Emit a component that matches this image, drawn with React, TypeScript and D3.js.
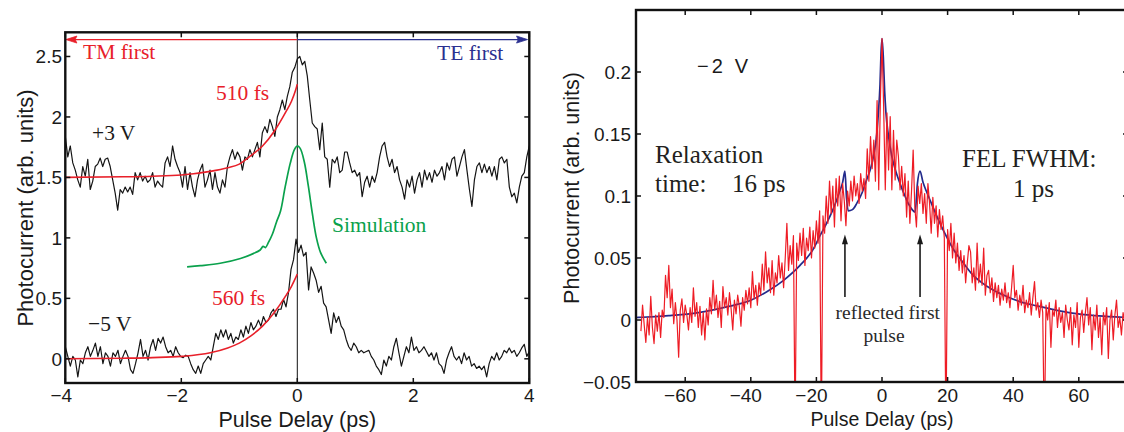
import React from 'react';
import * as d3 from 'd3';

// ---------- tick values ----------
const leftXTicks = [-4, -2, 0, 2, 4];
const leftYTicks = [0, 0.5, 1, 1.5, 2, 2.5];
const rightXTicks = [-60, -40, -20, 0, 20, 40, 60];
const rightYTicks = [-0.05, 0, 0.05, 0.1, 0.15, 0.2];

// ---------- left panel: measured traces, sampled uniformly from -4 ps to 4 ps ----------
const leftTraceStart = -4;
const leftTraceEnd = 4;
const plus3V = [
  1.84, 1.67, 1.76, 1.62, 1.56, 1.48, 1.42, 1.59, 1.51, 1.65,
  1.40, 1.47, 1.59, 1.61, 1.66, 1.59, 1.65, 1.66, 1.59, 1.48,
  1.37, 1.23, 1.40, 1.37, 1.42, 1.38, 1.42, 1.36, 1.54, 1.48,
  1.54, 1.47, 1.51, 1.46, 1.48, 1.54, 1.42, 1.47, 1.44, 1.42,
  1.62, 1.67, 1.59, 1.76, 1.65, 1.59, 1.54, 1.42, 1.59, 1.40,
  1.54, 1.42, 1.34, 1.48, 1.56, 1.61, 1.42, 1.48, 1.56, 1.40,
  1.54, 1.42, 1.37, 1.48, 1.42, 1.59, 1.67, 1.73, 1.65, 1.71,
  1.67, 1.56, 1.67, 1.65, 1.73, 1.67, 1.73, 1.79, 1.67, 1.87,
  1.92, 1.87, 1.98, 1.92, 1.84, 2.00, 2.06,
  2.14, 2.06, 2.17, 2.25, 2.37, 2.41, 2.48, 2.50, 2.43, 2.46,
  2.34, 2.14, 1.95, 1.92, 1.90, 1.73, 1.95, 1.67, 1.65, 1.42,
  1.65, 1.62, 1.67, 1.54, 1.56, 1.71, 1.71, 1.62, 1.54, 1.56,
  1.51, 1.54, 1.34, 1.46, 1.51, 1.42, 1.51, 1.46, 1.54,
  1.67, 1.76, 1.79, 1.67, 1.59, 1.65, 1.54, 1.59, 1.48, 1.42,
  1.32, 1.48, 1.42, 1.51, 1.37, 1.48, 1.54, 1.42, 1.56, 1.48,
  1.54, 1.46, 1.56, 1.51, 1.54, 1.59, 1.48, 1.62, 1.56, 1.65,
  1.67, 1.51, 1.59, 1.67, 1.73, 1.56, 1.40, 1.26, 1.48, 1.59,
  1.62, 1.54, 1.61, 1.54, 1.59, 1.51, 1.59, 1.48, 1.65, 1.67,
  1.62, 1.65, 1.42, 1.34, 1.37, 1.29, 1.42, 1.51, 1.54, 1.67,
  1.76,
];
const minus5V = [
  0.10, 0.02, -0.06, 0.02, -0.01, -0.15, -0.01, -0.04, 0.05, 0.10,
  0.02, 0.07, 0.13, 0.02, 0.10, -0.04, 0.05, 0.02, -0.06, 0.05,
  0.02, 0.07, -0.04, 0.02, 0.07, 0.02, -0.09, -0.12, -0.04, 0.05,
  0.16, 0.02, 0.07, -0.01, 0.10, 0.16, 0.07, 0.17, 0.13, 0.18,
  0.10, 0.05, 0.07, 0.02, 0.10, 0.05, 0.02, 0.01, 0.03, 0.02,
  -0.04, -0.09, -0.12, -0.06, -0.12, -0.04, -0.01, 0.02, -0.01, 0.10,
  0.21, 0.16, 0.24, 0.18, 0.24, 0.16, 0.21, 0.13, 0.18, 0.16,
  0.24, 0.18, 0.27, 0.21, 0.30, 0.24, 0.27, 0.32, 0.27, 0.35,
  0.30, 0.32, 0.38, 0.41, 0.35, 0.41,
  0.41, 0.49, 0.43, 0.55, 0.74, 0.82, 0.99, 0.88, 0.94, 0.85,
  0.88, 0.57, 0.76, 0.71, 0.65, 0.55, 0.60, 0.46, 0.43, 0.32,
  0.21, 0.38, 0.30, 0.35, 0.27, 0.24, 0.16, 0.10, 0.07, 0.13,
  0.10, 0.05, 0.07, 0.05, 0.06, 0.07, 0.02, -0.01, -0.06, -0.09,
  -0.13, -0.01, -0.06, 0.02, -0.01, 0.10, 0.17, 0.05, -0.06, 0.02,
  0.10, 0.05, 0.18, 0.07, 0.10, 0.05, 0.07, 0.10, 0.06, 0.02,
  0.05, -0.01, 0.05, -0.04, -0.06, -0.12, -0.01, 0.05, 0.10, 0.02,
  -0.01, 0.02, -0.04, 0.05, -0.01, 0.02, -0.06, -0.04, -0.08, -0.06,
  -0.09, -0.06, -0.15, -0.04, 0.02, -0.01, 0.05, -0.01, 0.02, 0.07,
  0.05, 0.09, 0.05, 0.07, 0.02, 0.05, 0.09, 0.12, 0.02, 0.06,
];

// ---------- left panel: fits and simulation [delay ps, value] ----------
const fit510: [number, number][] = [
  [-4, 1.5], [-3, 1.505], [-2.5, 1.51], [-2, 1.52], [-1.5, 1.55], [-1.2, 1.58],
  [-1.0, 1.61], [-0.8, 1.68], [-0.6, 1.76], [-0.4, 1.88], [-0.2, 2.04],
  [-0.1, 2.13], [-0.03, 2.22], [0, 2.27],
];
const fit560: [number, number][] = [
  [-4, 0.0], [-3, 0.005], [-2.5, 0.01], [-2, 0.02], [-1.5, 0.05], [-1.2, 0.09],
  [-1.0, 0.13], [-0.8, 0.19], [-0.6, 0.27], [-0.4, 0.38], [-0.2, 0.52],
  [-0.1, 0.6], [0, 0.7],
];
const simulation: [number, number][] = [
  [-1.9, 0.76], [-1.67, 0.77], [-1.33, 0.79], [-0.98, 0.83], [-0.76, 0.87],
  [-0.64, 0.9], [-0.59, 0.93], [-0.55, 0.92], [-0.5, 0.96], [-0.43, 1.03],
  [-0.36, 1.13], [-0.29, 1.22], [-0.21, 1.42], [-0.12, 1.62], [-0.05, 1.73],
  [0, 1.76], [0.05, 1.74], [0.12, 1.63], [0.19, 1.43], [0.26, 1.2],
  [0.33, 1.0], [0.4, 0.88], [0.5, 0.79],
];

// ---------- right panel ----------
const relaxFit: [number, number][] = [
  [-75, 0.002], [-73, 0.0022], [-65, 0.0035], [-57.5, 0.0054], [-50, 0.009],
  [-45, 0.012], [-40, 0.016], [-35, 0.023], [-30, 0.032], [-25, 0.044],
  [-21, 0.057], [-18.9, 0.068], [-16.9, 0.078], [-14.8, 0.09], [-13, 0.103],
  [-12, 0.111], [-11.3, 0.12], [-10.8, 0.098], [-10.3, 0.088], [-9, 0.089],
  [-7.7, 0.094], [-6, 0.103], [-4.7, 0.113], [-3.5, 0.122], [-2.6, 0.132],
  [-1.6, 0.15], [-1.1, 0.167], [-0.6, 0.19], [-0.3, 0.215], [0, 0.227],
  [0.4, 0.212], [0.8, 0.185], [1.2, 0.167], [2, 0.148], [3, 0.132],
  [4.2, 0.12], [5.5, 0.11], [7, 0.1], [8, 0.094], [9.2, 0.089], [10.1, 0.087],
  [10.8, 0.11], [11.6, 0.12], [12.5, 0.111], [13.5, 0.104], [14.6, 0.097],
  [17, 0.082], [19.7, 0.067], [22, 0.056], [24.8, 0.046], [27.8, 0.036],
  [30, 0.031], [34, 0.024], [38, 0.019], [43, 0.014], [48, 0.011], [53, 0.008],
  [58, 0.0055], [65, 0.0035], [73.6, 0.0022], [75, 0.002],
];
// measured photocurrent, in thousandths, sampled every 0.5 ps from -73.5 ps
const relaxStart = -73.5;
const relaxStep = 0.5;
const relaxMilli = [
  -9, 12, -4, -18, 2, -12, 19, -6, -19, 4, -9, 6, -14, 8, 2, 36, 18, 44, 10, 25, -3, 14, 0, -30, 8, 17, -2, 12,
  4, -8, 10, -2, 26, 3, 14, -6, 11, -12, 6, -16, 9, -4, 18, 5, 32, 8, 20, 2, 15, -6, 27, 10, 18, 4, 22, 9, -8, 16,
  5, 20, 11, -5, 18, 8, 24, 13, 26, 10, 39, 17, 28, 12, 30, 20, 45, 24, 55, 30, 42, 22, 48, 20, 38, 30, 52, 34, 46, 26,
  50, 78, 40, 60, 45, 68, -90, 62, 48, 70, 52, 74, 44, 66, 56, 75, 50, 72, 58, 80,
  62, 88, -95, 84, 70, 100, 78, 112, 86, 108, 75, 114, 92, 116, 80, 110, 96, 76,
  104, 92, 112, 96, 116, 100, 110, 94, 118, 104, 114, 98,
  138, 112, 148, 122, 145, 112, 177, 105, 177, 227,
  172, 105, 167, 121, 164, 105, 153, 113, 145, 132, 105,
  124, 100, 118, 83, 112, 78, 104, 137, 91, 75, 108, 94,
  110, 86, 102, 78, 110, 94, 70, 99, 78, 92, 67, 89, 73, 84, 66,
  -95, 73, 56, 78, 50, 70, 46, 62, 40, 56, 38, 52, 30, 46, 60, 55, 30, 42, 24, 62, 30, 45, 28, 58, 20, 36, 40, 22, 34, 15,
  30, 18, 28, 12, 25, 16, 30, 14, 22, 10, 26, 44, 18, 24, 8, 20, 12, 28, 6, 16, 10, 22, 4, 18, 31, 8, 14, 2, 16, 6, -95,
  12, 0, 14, -22, 8, 3, 16, -6, 10, -2, 6, -14, 12, 0, -8, 10, -20, 4, -6, 14, -22, 2, 8, -10, 6, 18, -4, 10, -24, 4,
  -8, 12, -14, 2, -28, 6, -4, 10, -31, 0, 8, -16, 4, 16, -6, 2, -12, 6, -2, 4, 0,
];
const reflectedPulses = [-11.3, 11.6];

const SANS = "'Liberation Sans', Arial, Helvetica, sans-serif";
const SERIF = "'Liberation Serif', 'Times New Roman', Times, serif";
const RED = '#e8202a';
const NAVY = '#2b3090';
const GREEN = '#0aa14c';
const FIT_BLUE = '#232b8c';

const fmt = (v: number) => (v < 0 ? '\u2212' + String(-v) : String(v));

export default function App() {
  const lx = d3.scaleLinear().domain([-4, 4]).range([65.3, 529.3]);
  const ly = d3.scaleLinear().domain([-0.2, 2.7]).range([383, 32.3]);
  const rx = d3.scaleLinear().domain([-75, 75]).range([636, 1128]);
  const ry = d3.scaleLinear().domain([-0.05, 0.25]).range([382, 10]);

  const uniformLine = (
    arr: number[],
    x0: number,
    step: number,
    sx: d3.ScaleLinear<number, number>,
    sy: d3.ScaleLinear<number, number>,
    k = 1
  ) =>
    d3
      .line<number>()
      .x((_, i) => sx(x0 + i * step))
      .y((d) => sy(d * k))(arr) as string;

  const pairLine = (
    arr: [number, number][],
    sx: d3.ScaleLinear<number, number>,
    sy: d3.ScaleLinear<number, number>,
    curve: d3.CurveFactory = d3.curveMonotoneX
  ) =>
    d3
      .line<[number, number]>()
      .x((d) => sx(d[0]))
      .y((d) => sy(d[1]))
      .curve(curve)(arr) as string;

  const lStep3 = (leftTraceEnd - leftTraceStart) / (plus3V.length - 1);
  const lStep5 = (leftTraceEnd - leftTraceStart) / (minus5V.length - 1);

  const L = { x0: lx(-4), x1: lx(4), y0: ly(2.7), y1: ly(-0.2) };
  const R = { x0: rx(-75), x1: rx(75), y0: ry(0.25), y1: ry(-0.05) };
  const TL = 5;

  const arrowY = ly(2.64);

  return (
    <svg
      width={1124}
      height={432}
      viewBox="0 0 1124 432"
      style={{ position: 'absolute', left: 0, top: 0, background: '#fff' }}
    >
      <defs>
        <clipPath id="clipL">
          <rect x={L.x0} y={L.y0} width={L.x1 - L.x0} height={L.y1 - L.y0} />
        </clipPath>
        <clipPath id="clipR">
          <rect x={R.x0} y={R.y0} width={R.x1 - R.x0} height={R.y1 - R.y0} />
        </clipPath>
      </defs>
      <rect x={0} y={0} width={1124} height={432} fill="#fff" />

      {/* ================= LEFT PANEL ================= */}
      <g clipPath="url(#clipL)">
        <line x1={lx(0)} x2={lx(0)} y1={L.y0} y2={L.y1} stroke="#111" strokeWidth={1} />
        <path d={uniformLine(plus3V, leftTraceStart, lStep3, lx, ly)} fill="none" stroke="#151515" strokeWidth={1.2} strokeLinejoin="round" />
        <path d={uniformLine(minus5V, leftTraceStart, lStep5, lx, ly)} fill="none" stroke="#151515" strokeWidth={1.2} strokeLinejoin="round" />
        <path d={pairLine(fit510, lx, ly)} fill="none" stroke={RED} strokeWidth={1.6} />
        <path d={pairLine(fit560, lx, ly)} fill="none" stroke={RED} strokeWidth={1.6} />
        <path d={pairLine(simulation, lx, ly, d3.curveCatmullRom)} fill="none" stroke={GREEN} strokeWidth={1.7} />
        {/* TM first / TE first arrows */}
        <line x1={lx(-3.9)} x2={lx(0)} y1={arrowY} y2={arrowY} stroke={RED} strokeWidth={1.3} />
        <path d={`M${lx(-3.99)},${arrowY} L${lx(-3.8)},${arrowY - 3.5} L${lx(-3.83)},${arrowY} L${lx(-3.8)},${arrowY + 3.5} Z`} fill={RED} stroke={RED} strokeWidth={0.8} />
        <line x1={lx(0)} x2={lx(3.9)} y1={arrowY} y2={arrowY} stroke={NAVY} strokeWidth={1.3} />
        <path d={`M${lx(3.97)},${arrowY} L${lx(3.78)},${arrowY - 3.5} L${lx(3.81)},${arrowY} L${lx(3.78)},${arrowY + 3.5} Z`} fill={NAVY} stroke={NAVY} strokeWidth={0.8} />
      </g>
      {/* frame + ticks */}
      <rect x={L.x0} y={L.y0} width={L.x1 - L.x0} height={L.y1 - L.y0} fill="none" stroke="#111" strokeWidth={2.4} />
      {leftXTicks.map((t) => (
        <g key={'lxt' + t}>
          <line x1={lx(t)} x2={lx(t)} y1={L.y1} y2={L.y1 - TL} stroke="#111" strokeWidth={1.5} />
          <line x1={lx(t)} x2={lx(t)} y1={L.y0} y2={L.y0 + TL} stroke="#111" strokeWidth={1.5} />
          <text x={lx(t) + (t < 0 ? -4 : 0)} y={402} textAnchor="middle" fontFamily={SANS} fontSize={19} fill="#1a1a1a">{fmt(t)}</text>
        </g>
      ))}
      {leftYTicks.map((t) => (
        <g key={'lyt' + t}>
          <line x1={L.x0} x2={L.x0 + TL} y1={ly(t)} y2={ly(t)} stroke="#111" strokeWidth={1.5} />
          <line x1={L.x1} x2={L.x1 - TL} y1={ly(t)} y2={ly(t)} stroke="#111" strokeWidth={1.5} />
          <text x={62} y={ly(t) + 7} textAnchor="end" fontFamily={SANS} fontSize={19} fill="#1a1a1a">{fmt(t)}</text>
        </g>
      ))}
      <text x={lx(0)} y={427} textAnchor="middle" fontFamily={SANS} fontSize={21.5} fill="#1a1a1a">Pulse Delay (ps)</text>
      <text transform="translate(33,208) rotate(-90)" textAnchor="middle" fontFamily={SANS} fontSize={22} fill="#1a1a1a">Photocurrent (arb. units)</text>

      <g fontFamily={SERIF} fontSize={21.5}>
        <text x={83} y={59} fill={RED}>TM first</text>
        <text x={437} y={60} fill={NAVY}>TE first</text>
        <text x={216} y={100} fill={RED}>510 fs</text>
        <text x={92} y={140} fill="#1a1a1a">+3 V</text>
        <text x={332} y={232} fill={GREEN}>Simulation</text>
        <text x={212} y={305} fill={RED}>560 fs</text>
        <text x={88} y={331} fill="#1a1a1a">{'\u2212'}5 V</text>
      </g>

      {/* ================= RIGHT PANEL ================= */}
      <g clipPath="url(#clipR)">
        <path d={pairLine(relaxFit, rx, ry)} fill="none" stroke={FIT_BLUE} strokeWidth={1.7} />
        <path d={uniformLine(relaxMilli, relaxStart, relaxStep, rx, ry, 0.001)} fill="none" stroke="#ee1c25" strokeWidth={1.2} strokeLinejoin="round" />
      </g>
      <rect x={R.x0} y={R.y0} width={R.x1 - R.x0} height={R.y1 - R.y0} fill="none" stroke="#111" strokeWidth={2.4} />
      {rightXTicks.map((t) => (
        <g key={'rxt' + t}>
          <line x1={rx(t)} x2={rx(t)} y1={R.y1} y2={R.y1 - TL} stroke="#111" strokeWidth={1.5} />
          <line x1={rx(t)} x2={rx(t)} y1={R.y0} y2={R.y0 + TL} stroke="#111" strokeWidth={1.5} />
          <text x={rx(t) + (t < 0 ? -5 : 0)} y={402} textAnchor="middle" fontFamily={SANS} fontSize={19} fill="#1a1a1a">{fmt(t)}</text>
        </g>
      ))}
      {rightYTicks.map((t) => (
        <g key={'ryt' + t}>
          <line x1={R.x0} x2={R.x0 + TL} y1={ry(t)} y2={ry(t)} stroke="#111" strokeWidth={1.5} />
          <line x1={R.x1} x2={R.x1 - TL} y1={ry(t)} y2={ry(t)} stroke="#111" strokeWidth={1.5} />
          <text x={631} y={ry(t) + 7} textAnchor="end" fontFamily={SANS} fontSize={19} fill="#1a1a1a">{fmt(t)}</text>
        </g>
      ))}
      <text x={rx(0)} y={426} textAnchor="middle" fontFamily={SANS} fontSize={19.5} fill="#1a1a1a">Pulse Delay (ps)</text>
      <text transform="translate(579,188) rotate(-90)" textAnchor="middle" fontFamily={SANS} fontSize={21.5} fill="#1a1a1a">Photocurrent (arb. units)</text>

      <text x={697} y={73} fontFamily={SANS} fontSize={20} textLength={51} lengthAdjust="spacing" fill="#1a1a1a">{'\u2212'}2 V</text>
      <g fontFamily={SERIF} fontSize={25} fill="#231f20">
        <text x={655} y={163}>Relaxation</text>
        <text x={655} y={192}>time:</text>
        <text x={732} y={192}>16 ps</text>
        <text x={962} y={167}>FEL FWHM:</text>
        <text x={1013} y={197}>1 ps</text>
      </g>
      <g fontFamily={SERIF} fontSize={19.5} fill="#2a2a2a">
        <text x={940} y={319} textAnchor="end">reflected first</text>
        <text x={884} y={342} textAnchor="middle">pulse</text>
      </g>
      {reflectedPulses.map((p) => (
        <g key={'arr' + p}>
          <line x1={rx(p)} x2={rx(p)} y1={ry(0.0185)} y2={ry(0.063)} stroke="#1a1a1a" strokeWidth={1.6} />
          <path d={`M${rx(p)},${ry(0.069)} L${rx(p) - 3},${ry(0.061)} L${rx(p) + 3},${ry(0.061)} Z`} fill="#1a1a1a" />
        </g>
      ))}
    </svg>
  );
}
